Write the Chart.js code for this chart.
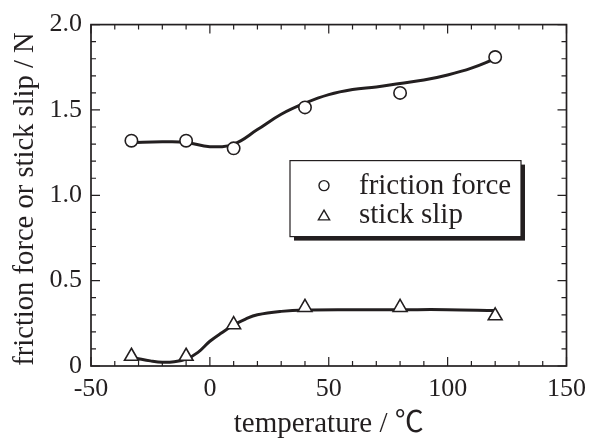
<!DOCTYPE html>
<html><head><meta charset="utf-8">
<script src="https://cdn.jsdelivr.net/npm/chart.js@4/dist/chart.umd.min.js"></script>
<style>html,body{margin:0;padding:0;background:#fff;} #wrap{width:594px;height:439px;}</style>
</head><body>
<div id="wrap"><canvas id="c" width="594" height="439"></canvas></div>
<script>
const seriesNames = ['friction force', 'stick slip'];
const measuredTemps = [-33, -10, 10, 40, 80, 120];
const frictionForce = [1.32, 1.32, 1.275, 1.515, 1.60, 1.81];
const stickSlip = [0.057, 0.057, 0.242, 0.343, 0.343, 0.294];
const frictionCurveTemps = [-33, -20, -10, 0, 10, 20, 30, 40, 50, 60, 70, 80, 90, 100, 110, 120];
const frictionCurve = [1.31, 1.313, 1.31, 1.285, 1.30, 1.385, 1.475, 1.54, 1.59, 1.62, 1.635, 1.655, 1.675, 1.705, 1.745, 1.80];
const stickCurveTemps = [-31, -25, -20, -15, -10, -5, 0, 5, 10, 15, 20, 30, 40, 60, 80, 100, 120];
const stickCurve = [0.045, 0.03, 0.022, 0.025, 0.04, 0.08, 0.145, 0.195, 0.24, 0.275, 0.30, 0.32, 0.328, 0.33, 0.33, 0.33, 0.325];
const xTickLabels = ['-50', '0', '50', '100', '150'];
const yTickLabels = ['0', '0.5', '1.0', '1.5', '2.0'];
const xTitle = 'temperature / \u2103';
const yTitle = 'friction force or stick slip / N';

const INK = '#231f20';
const SERIF = "'Liberation Serif', 'Noto Sans CJK JP', 'DejaVu Serif', serif";

const toPts = (xs, ys) => xs.map((x, i) => ({x: x, y: ys[i]}));

function drawCircle(ctx, x, y, r) {
  ctx.beginPath(); ctx.arc(x, y, r, 0, Math.PI * 2); ctx.fill(); ctx.stroke();
}
function drawTri(ctx, x, y, r) {
  ctx.beginPath();
  for (let k = 0; k < 3; k++) {
    const a = k * 2 * Math.PI / 3;
    const px = x + Math.sin(a) * r, py = y - Math.cos(a) * r;
    if (k === 0) ctx.moveTo(px, py); else ctx.lineTo(px, py);
  }
  ctx.closePath(); ctx.fill(); ctx.stroke();
}

const decor = {
  id: 'decor',
  afterDatasetsDraw(chart) {
    const ctx = chart.ctx, a = chart.chartArea;
    const xs = chart.scales.x, ys = chart.scales.y;
    ctx.save();
    ctx.strokeStyle = INK;
    ctx.lineWidth = 1.2;
    ctx.beginPath();
    for (let v = -50; v <= 150; v += 10) {
      const px = xs.getPixelForValue(v);
      const len = (v % 50 === 0) ? 9 : 5;
      ctx.moveTo(px, a.bottom); ctx.lineTo(px, a.bottom - len);
      ctx.moveTo(px, a.top); ctx.lineTo(px, a.top + len);
    }
    for (let k = 0; k <= 20; k++) {
      const py = ys.getPixelForValue(k / 10);
      const len = (k % 5 === 0) ? 9 : 5;
      ctx.moveTo(a.left, py); ctx.lineTo(a.left + len, py);
      ctx.moveTo(a.right, py); ctx.lineTo(a.right - len, py);
    }
    ctx.stroke();
    ctx.lineWidth = 1.7;
    ctx.strokeRect(a.left, a.top, a.right - a.left, a.bottom - a.top);

    // legend box
    const bx = a.left + 199, by = a.top + 136, bw = 231, bh = 76;
    ctx.fillStyle = INK;
    ctx.fillRect(bx + 4, by + 4, bw, bh);
    ctx.fillStyle = '#fff';
    ctx.fillRect(bx, by, bw, bh);
    ctx.lineWidth = 1.2;
    ctx.strokeRect(bx, by, bw, bh);
    ctx.lineWidth = 1.4;
    ctx.fillStyle = '#fff';
    drawCircle(ctx, bx + 34, by + 25, 5);
    drawTri(ctx, bx + 34, by + 56, 6.5);
    ctx.fillStyle = INK;
    ctx.font = '29px ' + SERIF;
    ctx.textAlign = 'left';
    ctx.textBaseline = 'alphabetic';
    ctx.fillText(seriesNames[0], bx + 69, by + 33);
    ctx.fillText(seriesNames[1], bx + 69, by + 62);

    // y title
    ctx.translate(33, 199);
    ctx.rotate(-Math.PI / 2);
    ctx.textAlign = 'center';
    ctx.font = '28.6px ' + SERIF;
    ctx.fillText(yTitle, 0, 0);
    ctx.restore();
  }
};

new Chart(document.getElementById('c'), {
  type: 'scatter',
  data: {
    datasets: [
      {label: seriesNames[0], data: toPts(measuredTemps, frictionForce), pointStyle: 'circle', pointRadius: 6.2,
       pointBackgroundColor: '#fff', pointBorderColor: INK, pointBorderWidth: 1.6, showLine: false},
      {label: seriesNames[1], data: toPts(measuredTemps, stickSlip), pointStyle: 'triangle', pointRadius: 8,
       pointBackgroundColor: '#fff', pointBorderColor: INK, pointBorderWidth: 1.6, showLine: false},
      {label: 'friction fit', data: toPts(frictionCurveTemps, frictionCurve), showLine: true, pointRadius: 0,
       borderColor: INK, borderWidth: 3, tension: 0.4, fill: false},
      {label: 'stick fit', data: toPts(stickCurveTemps, stickCurve), showLine: true, pointRadius: 0,
       borderColor: INK, borderWidth: 3, tension: 0.4, fill: false}
    ]
  },
  options: {
    responsive: false, animation: false, devicePixelRatio: 1,
    layout: {padding: {left: 0, right: 25, top: 24, bottom: 0}},
    plugins: {legend: {display: false}, tooltip: {enabled: false}},
    scales: {
      x: {
        type: 'linear', min: -50, max: 150,
        afterFit(s) { s.height = 73; },
        grid: {display: false, drawTicks: false}, border: {display: false},
        ticks: {stepSize: 50, padding: 8, color: INK, maxRotation: 0, font: {family: SERIF, size: 26},
                callback: (v) => xTickLabels[Math.round((v + 50) / 50)]},
        title: {display: true, text: xTitle, color: INK, font: {family: SERIF, size: 29, lineHeight: 1}, padding: 0}
      },
      y: {
        min: 0, max: 2,
        afterFit(s) { s.width = 91; },
        grid: {display: false, drawTicks: false}, border: {display: false},
        ticks: {stepSize: 0.5, padding: 9, color: INK, font: {family: SERIF, size: 26},
                callback: (v) => yTickLabels[Math.round(v / 0.5)]}
      }
    }
  },
  plugins: [decor]
});
</script>
</body></html>
